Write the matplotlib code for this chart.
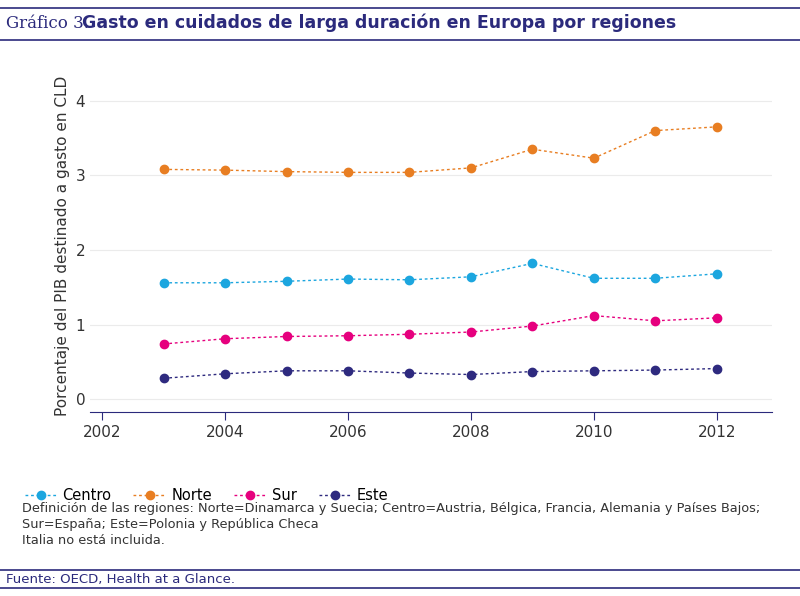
import numpy as np
import matplotlib.pyplot as plt

years = np.arange(2003, 2013)
data = {
    'Centro': ([1.56, 1.56, 1.58, 1.61, 1.60, 1.64, 1.82, 1.62, 1.62, 1.68], '#1ca6df'),
    'Norte': ([3.08, 3.07, 3.05, 3.04, 3.04, 3.10, 3.35, 3.23, 3.60, 3.65], '#e87e22'),
    'Sur': ([0.74, 0.81, 0.84, 0.85, 0.87, 0.90, 0.98, 1.12, 1.05, 1.09], '#e6007e'),
    'Este': ([0.28, 0.34, 0.38, 0.38, 0.35, 0.33, 0.37, 0.38, 0.39, 0.41], '#2e2a7f'),
}
navy = '#2b2a7c'

fig = plt.figure(figsize=(8, 5.96), dpi=100)
ax = fig.add_axes([0.1125, 0.309, 0.8525, 0.557])
for name, (vals, col) in data.items():
    ax.plot(years, vals, ls=(0, (2, 2)), lw=1, color=col, marker='o', markersize=6, label=name)

ax.set_xlim(2001.8, 2012.9)
ax.set_ylim(-0.17, 4.28)
ax.set_yticks([0, 1, 2, 3, 4])
ax.set_xticks([2002, 2004, 2006, 2008, 2010, 2012])
ax.grid(axis='y', color='#ebebeb', lw=0.8)
for s in ['top', 'right', 'left']:
    ax.spines[s].set_visible(False)
ax.spines['bottom'].set_color(navy)
ax.tick_params(axis='y', length=0, labelsize=11, colors='#333333')
ax.tick_params(axis='x', colors=navy, labelsize=11, labelcolor='#333333', length=6)
ax.set_ylabel('Porcentaje del PIB destinado a gasto en CLD', fontsize=11, color='#333333')

ax.legend(loc='upper left', bbox_to_anchor=(-0.115, -0.19), ncol=4, frameon=False,
          fontsize=10.5, handlelength=2.2, handletextpad=0.4, columnspacing=1.5)

fig.text(0.027, 0.157, 'Definición de las regiones: Norte=Dinamarca y Suecia; Centro=Austria, Bélgica, Francia, Alemania y Países Bajos;\n'
         'Sur=España; Este=Polonia y República Checa\nItalia no está incluida.',
         fontsize=9.3, color='#333333', va='top', linespacing=1.3)
fig.text(0.008, 0.027, 'Fuente: OECD, Health at a Glance.', fontsize=9.5, color=navy, va='center')

fig.text(0.008, 0.961, 'Gráfico 3.', fontsize=12, family='DejaVu Serif', color=navy, va='center')
fig.text(0.103, 0.961, 'Gasto en cuidados de larga duración en Europa por regiones', fontsize=12.5,
         fontweight='bold', color=navy, va='center')
for y in [0.987, 0.933, 0.043, 0.013]:
    fig.add_artist(plt.Line2D([0, 1], [y, y], color=navy, lw=1.2))

fig.savefig('out.png', dpi=100)
